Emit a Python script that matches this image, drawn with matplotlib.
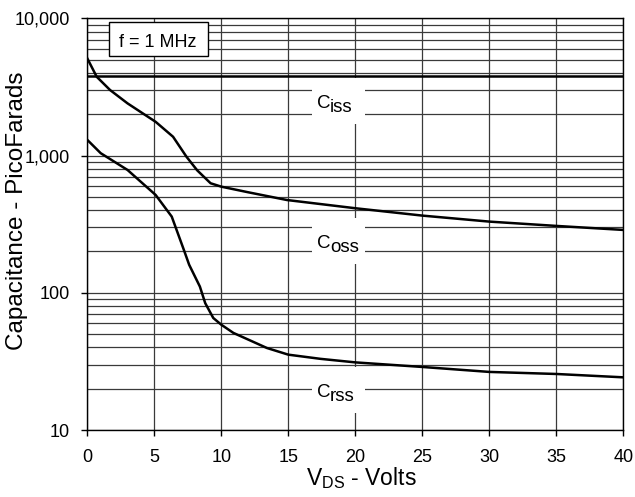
import numpy as np
import matplotlib
matplotlib.use('Agg')
import matplotlib.pyplot as plt
from matplotlib import ticker, transforms
from matplotlib.patches import Rectangle

plt.rcParams['font.family'] = ['Liberation Sans', 'DejaVu Sans']
plt.rcParams['mathtext.fontset'] = 'custom'
plt.rcParams['mathtext.rm'] = 'Liberation Sans'
plt.rcParams['mathtext.default'] = 'regular'

# capacitance vs drain-source voltage (pF)
vds_oss = [0, 0.7, 1.7, 3.0, 5.1, 6.4, 7.4, 8.2, 9.2, 10.0, 12.0, 14.9,
           17.4, 20, 25, 30, 35, 40]
c_oss = [5100, 3750, 3000, 2400, 1760, 1370, 980, 780, 628, 593, 540, 474,
         443, 413, 365, 330, 307, 287]

vds_rss = [0, 1.0, 3.0, 5.1, 6.3, 7.2, 7.6, 8.4, 8.8, 9.4, 10.0, 10.9,
           13.4, 15.0, 17.4, 20, 25, 30, 35, 40]
c_rss = [1300, 1040, 785, 516, 359, 206, 160, 111, 84, 65.5, 58.5, 51,
         39.6, 35.4, 33.0, 31.1, 28.8, 26.5, 25.6, 24.2]

vds_iss = [0, 40]
c_iss = [3800, 3800]

# where the curve names sit (V, pF)
curve_labels = [('iss', 18.75, 2500), ('oss', 18.75, 238), ('rss', 18.75, 19.5)]

fig = plt.figure(figsize=(6.35, 4.97), dpi=100)
ax = fig.add_axes([0.1375, 0.1348, 0.8441, 0.8284])

ax.set_yscale('log')
ax.set_xlim(0, 40)
ax.set_ylim(10, 10000)

ax.xaxis.set_major_locator(ticker.MultipleLocator(5))
ax.yaxis.set_major_locator(ticker.LogLocator(base=10))
ax.yaxis.set_minor_locator(ticker.LogLocator(base=10, subs=np.arange(2, 10)))
ax.yaxis.set_major_formatter(ticker.FuncFormatter(lambda v, p: '{:,.0f}'.format(v)))
ax.yaxis.set_minor_formatter(ticker.NullFormatter())

ax.grid(True, which='major', axis='both', color='#3a3a3a', lw=0.9, zorder=1)
ax.grid(True, which='minor', axis='y', color='#3a3a3a', lw=0.9, zorder=1)
ax.tick_params(which='major', direction='out', length=4.5, width=1,
               labelsize=13)
ax.tick_params(axis='x', pad=9.5)
ax.tick_params(axis='y', pad=8)
ax.tick_params(which='minor', length=0)
for sp in ax.spines.values():
    sp.set_linewidth(1.0)

ax.plot(vds_iss, c_iss, color='k', lw=1.8, zorder=3)
ax.plot(vds_oss, c_oss, color='k', lw=1.8, zorder=3)
ax.plot(vds_rss, c_rss, color='k', lw=1.8, zorder=3)


def anchor_at(x, y, base):
    """Transform in inches centred on (x, y) of the given base transform."""
    return fig.dpi_scale_trans + transforms.ScaledTranslation(x, y, base)


# curve names: white patch that breaks the grid, "C" plus a subscript
for sub, x, y in curve_labels:
    tr = anchor_at(x, y, ax.transData)
    ax.add_patch(Rectangle((-0.265, -0.23), 0.53, 0.46, transform=tr,
                           fc='white', ec='none', zorder=4))
    ax.text(-0.22, -0.068, 'C', transform=tr, fontsize=13.5,
            ha='left', va='baseline', zorder=5)
    ax.text(-0.085, -0.11, sub, transform=tr, fontsize=13.5,
            ha='left', va='baseline', zorder=5)

# test condition box
tr = anchor_at(0.1319, 0.9497, ax.transAxes)
ax.add_patch(Rectangle((-0.495, -0.167), 0.99, 0.334, transform=tr,
                       fc='white', ec='k', lw=1.0, zorder=5))
ax.text(0, -0.077, 'f = 1 MHz', transform=tr, fontsize=13,
        ha='center', va='baseline', zorder=6)

ax.set_xlabel('V$_{DS}$ - Volts', fontsize=16.5, va='baseline')
ax.xaxis.set_label_coords(0.5106, -0.1336)
ax.set_ylabel('Capacitance - PicoFarads', fontsize=17.5, va='center')
ax.yaxis.set_label_coords(-0.1312, 0.532)

fig.savefig('out.png', dpi=100)
